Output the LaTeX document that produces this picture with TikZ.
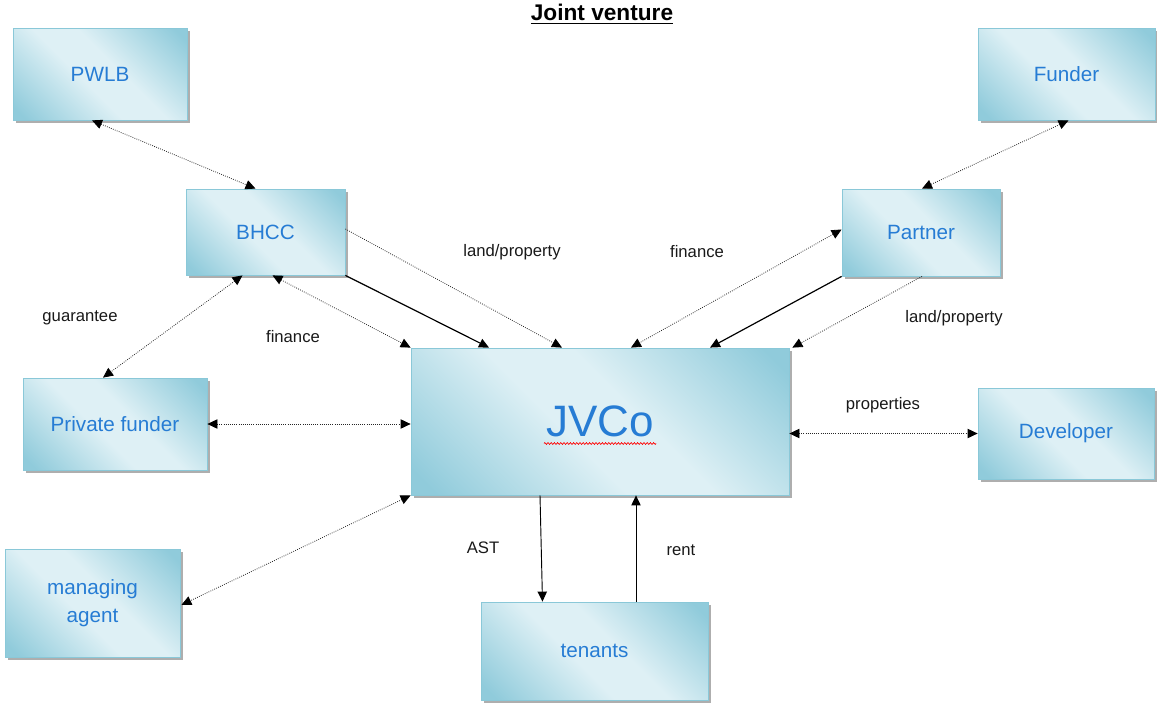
\documentclass[tikz,border=0pt]{standalone}
\usepackage{fontspec}
\setmainfont{Liberation Sans}
\usetikzlibrary{arrows.meta,calc,shadows,decorations.pathmorphing}

\definecolor{boxdark}{RGB}{144,203,219}
\definecolor{boxlight}{RGB}{222,240,245}
\definecolor{boxline}{RGB}{138,200,216}
\definecolor{boxtext}{RGB}{38,124,212}

\pgfdeclareverticalshading{partyshade}{100bp}{color(0bp)=(boxdark); color(18bp)=(boxdark);
  color(44bp)=(boxlight); color(56bp)=(boxlight); color(82bp)=(boxdark); color(100bp)=(boxdark)}

\tikzset{
  party/.style 2 args={draw=boxline, line width=0.6pt,
    shading=partyshade, shading angle=-45,
    minimum width=#1*0.75pt, minimum height=#2*0.75pt, inner sep=0pt, align=center,
    text=boxtext, font=\fontsize{15.5}{18}\selectfont,
    drop shadow={shadow xshift=2.2pt, shadow yshift=-2.2pt, fill=black!45, opacity=0.7}},
  flow/.style={densely dotted, line width=0.6pt, black!85},
  deal/.style={line width=0.9pt, black},
  lbl/.style={font=\fontsize{12.5}{15}\selectfont, text=black!90}
}

\begin{document}
\begin{tikzpicture}[x=0.75pt, y=-0.75pt, >={Triangle[length=7.5pt,width=7pt,color=black]}]
\useasboundingbox (0,0) rectangle (1157,707);

    % title
    \node[font=\bfseries\fontsize{17}{20}\selectfont] (title) at (602,14) {\underline{Joint venture}};

    % parties
    \node[party={174}{92}]  (pwlb)    at (100,74)    {PWLB};
    \node[party={177}{92}]  (funder)  at (1066.5,74) {Funder};
    \node[party={159}{86}]  (bhcc)    at (265.5,232) {BHCC};
    \node[party={158}{87}]  (partner) at (921,232.5) {Partner};
    \node[party={184}{92}]  (pf)      at (115,424)   {Private funder};
    \node[party={176}{91}]  (dev)     at (1066,433.5) {Developer};
    \node[party={175}{108}] (ma)      at (92.5,603)  {managing\\[3pt]agent};
    \node[party={227}{98}]  (ten)     at (594.5,651) {tenants};
    \node[party={378}{147}, font=\fontsize{33}{38}\selectfont] (jvco) at (600,421.5) {JVCo};

    % spelling squiggle
    \draw[red, line width=0.5pt, decorate, decoration={zigzag, segment length=2.4pt, amplitude=0.7pt}]
        ($(jvco.center)+(-56,22)$) -- ($(jvco.center)+(56,22)$);

    % the connections
    \draw[flow, <->] ($(pwlb.south)+(-8,0)$)    -- ($(bhcc.north)+(-10,0)$);
    \draw[flow, <->] ($(funder.south)+(2,0)$)   -- ($(partner.north)+(1,0)$);
    \draw[flow, <->] ($(bhcc.south)+(-23,0)$)   -- ($(pf.north)+(-12,0)$);
    \draw[flow, <->] ($(bhcc.south)+(7,0)$)     -- (jvco.north west);
    \draw[deal, ->]  (bhcc.south east)          -- ($(jvco.north)+(-111,0)$);
    \draw[flow, ->]  ($(bhcc.east)+(0,-3)$)     -- ($(jvco.north)+(-38,0)$);
    \draw[flow, <->] ($(partner.west)+(0,-3)$)  -- ($(jvco.north)+(31,0)$);
    \draw[deal, ->]  (partner.south west)       -- ($(jvco.north)+(110,0)$);
    \draw[flow, ->]  ($(partner.south)+(1,0)$)  -- ($(jvco.north east)+(3,0)$);
    \draw[flow, <->] (pf.east)                  -- (pf.east -| jvco.west);
    \draw[flow, <->] (dev.west -| jvco.east)    -- (dev.west);
    \draw[flow, <->] (jvco.south west)          -- ($(ma.east)+(1,2)$);
    \draw[line width=0.7pt, ->] ($(jvco.south)+(-60,0)$) -- ($(ten.north)+(-52,0)$);
    \draw[line width=0.7pt, ->] ($(ten.north)+(41.5,0)$) -- ($(jvco.south)+(36,0)$);

    % labels
    \node[lbl] (lland)  at (512,252) {land/property};
    \node[lbl] (lfinr)  at (697,252) {finance};
    \node[lbl] (lguar)  at (80,318)  {guarantee};
    \node[lbl] (lfinl)  at (293,337) {finance};
    \node[lbl] (llandr) at (954,318) {land/property};
    \node[lbl] (lprop)  at (883,405) {properties};
    \node[lbl] (last)   at (483,548) {AST};
    \node[lbl] (lrent)  at (681,550) {rent};

\end{tikzpicture}
\end{document}
